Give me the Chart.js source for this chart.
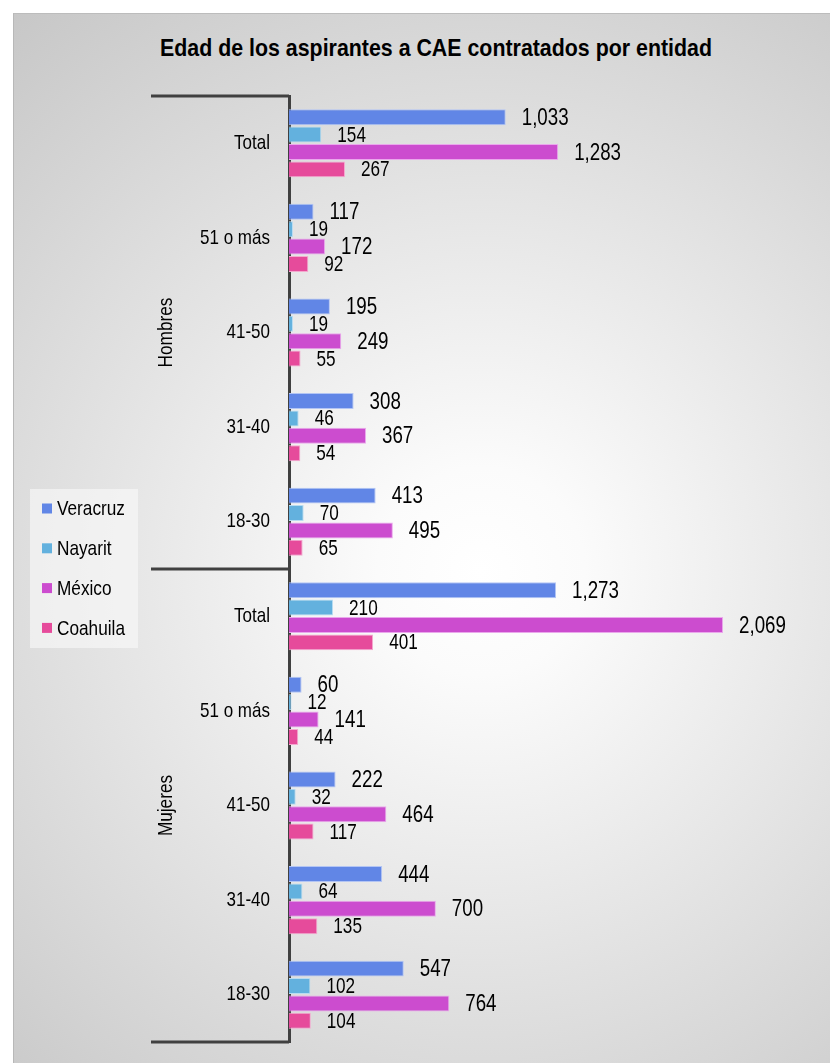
<!DOCTYPE html>
<html lang="es">
<head>
  <meta charset="UTF-8" />
  <title>Edad de los aspirantes a CAE contratados por entidad</title>
  <script src="https://cdn.jsdelivr.net/npm/chart.js@4"></script>
  <style>
    body { margin: 0; background: #fff; }
    #marco {
      position: absolute; left: 13px; top: 13px; width: 817px; height: 1050px;
      box-sizing: border-box;
      border-left: 1px solid #b8b8b8; border-top: 1px solid #bcbcbc;
      background: radial-gradient(circle 740px at 467px 557px, #ffffff 0%, #fbfbfb 14%, #c6c6c6 100%);
    }
    #titulo {
      position: absolute; left: 86px; width: 700px; top: 34px; margin: 0;
      white-space: nowrap;
      text-align: center; font: bold 24px 'Liberation Sans', Arial, sans-serif; color: #000;
      transform: scaleX(0.89); transform-origin: center;
    }
    canvas { position: absolute; left: 0; top: 0; }
  </style>
</head>
<body>
  <div id="marco"></div>
  <h1 id="titulo">Edad de los aspirantes a CAE contratados por entidad</h1>
  <canvas id="grafica" width="830" height="1063"></canvas>

  <script>
    // datos
    const categorias = ['Total', '51 o más', '41-50', '31-40', '18-30', 'Total', '51 o más', '41-50', '31-40', '18-30'];
    const grupos = ['Hombres', 'Mujeres'];
    const entidades = ['Veracruz', 'Nayarit', 'México', 'Coahuila'];
    const veracruz = [1033, 117, 195, 308, 413, 1273, 60, 222, 444, 547];
    const nayarit = [154, 19, 19, 46, 70, 210, 12, 32, 64, 102];
    const mexico = [1283, 172, 249, 367, 495, 2069, 141, 464, 700, 764];
    const coahuila = [267, 92, 55, 54, 65, 401, 44, 117, 135, 104];

    const fuente = "'Liberation Sans', Arial, sans-serif";
    const colores = ['#6186e6', '#63b1de', '#cc4ccf', '#e64b9b'];
    const bordes = ['#b3c5f4', '#b8dcf1', '#eaa8ec', '#f4a9cf'];

    // texto estrecho (el original usa una fuente tipo Arial Narrow)
    function textoEstrecho(ctx, texto, x, y, escala) {
      ctx.save();
      ctx.translate(x, y);
      ctx.scale(escala, 1);
      ctx.fillText(texto, 0, 0);
      ctx.restore();
    }

    // numeros al final de cada barra
    const etiquetas = {
      id: 'etiquetas',
      afterDatasetsDraw(chart) {
        const ctx = chart.ctx;
        ctx.save();
        ctx.fillStyle = '#000';
        ctx.textAlign = 'left';
        ctx.textBaseline = 'middle';
        chart.data.datasets.forEach((ds, i) => {
          ctx.font = (i % 2 ? '22px ' : '24px ') + fuente;
          chart.getDatasetMeta(i).data.forEach((bar, j) => {
            textoEstrecho(ctx, ds.data[j].toLocaleString('en-US'), bar.x + 16, bar.y + 1, 0.78);
          });
        });
        ctx.restore();
      }
    };

    // etiquetas de categoria, lineas de grupo, Hombres/Mujeres y leyenda
    const decoracion = {
      id: 'decoracion',
      afterDraw(chart) {
        const { ctx, chartArea, scales: { y } } = chart;
        ctx.save();
        ctx.fillStyle = '#000';
        ctx.font = '21px ' + fuente;
        ctx.textAlign = 'right';
        ctx.textBaseline = 'middle';
        y.ticks.forEach((t, i) => {
          textoEstrecho(ctx, y.getLabelForValue(t.value), chartArea.left - 19, y.getPixelForTick(i), 0.81);
        });

        ctx.strokeStyle = '#404040';
        ctx.lineWidth = 3;
        [-0.5, 4.5, 9.5].forEach(v => {
          const py = y.getPixelForValue(v);
          ctx.beginPath();
          ctx.moveTo(151, py);
          ctx.lineTo(chartArea.left, py);
          ctx.stroke();
        });

        ctx.textAlign = 'center';
        grupos.forEach((g, k) => {
          ctx.save();
          ctx.translate(166, y.getPixelForValue(k * 5 + 2));
          ctx.rotate(-Math.PI / 2);
          textoEstrecho(ctx, g, 0, 0, 0.82);
          ctx.restore();
        });

        ctx.fillStyle = 'rgba(250,250,250,0.6)';
        ctx.fillRect(30, 489, 108, 159);
        ctx.textAlign = 'left';
        entidades.forEach((e, k) => {
          const py = 508.5 + k * 39.8;
          ctx.fillStyle = colores[k];
          ctx.fillRect(42, py - 5, 10, 10);
          ctx.fillStyle = '#000';
          textoEstrecho(ctx, e, 57, py + 1, 0.82);
        });
        ctx.restore();
      }
    };

    const series = [veracruz, nayarit, mexico, coahuila];

    new Chart(document.getElementById('grafica'), {
      type: 'bar',
      data: {
        labels: categorias,
        datasets: series.map((d, i) => ({
          label: entidades[i],
          data: d,
          backgroundColor: colores[i],
          borderColor: bordes[i],
          borderWidth: 1,
          categoryPercentage: 0.735,
          barPercentage: 0.92
        }))
      },
      options: {
        indexAxis: 'y',
        responsive: false,
        animation: false,
        layout: { padding: { left: 0, right: 16.5, top: 96, bottom: 21 } },
        plugins: {
          legend: { display: false },
          title: { display: false },
          tooltip: { enabled: false }
        },
        scales: {
          x: { display: false, min: 0, max: 2500 },
          y: {
            grid: { display: false, drawTicks: false },
            border: { color: '#404040', width: 3 },
            ticks: { display: false },
            afterFit(scale) { scale.width = 289; }
          }
        }
      },
      plugins: [etiquetas, decoracion]
    });
  </script>
</body>
</html>
